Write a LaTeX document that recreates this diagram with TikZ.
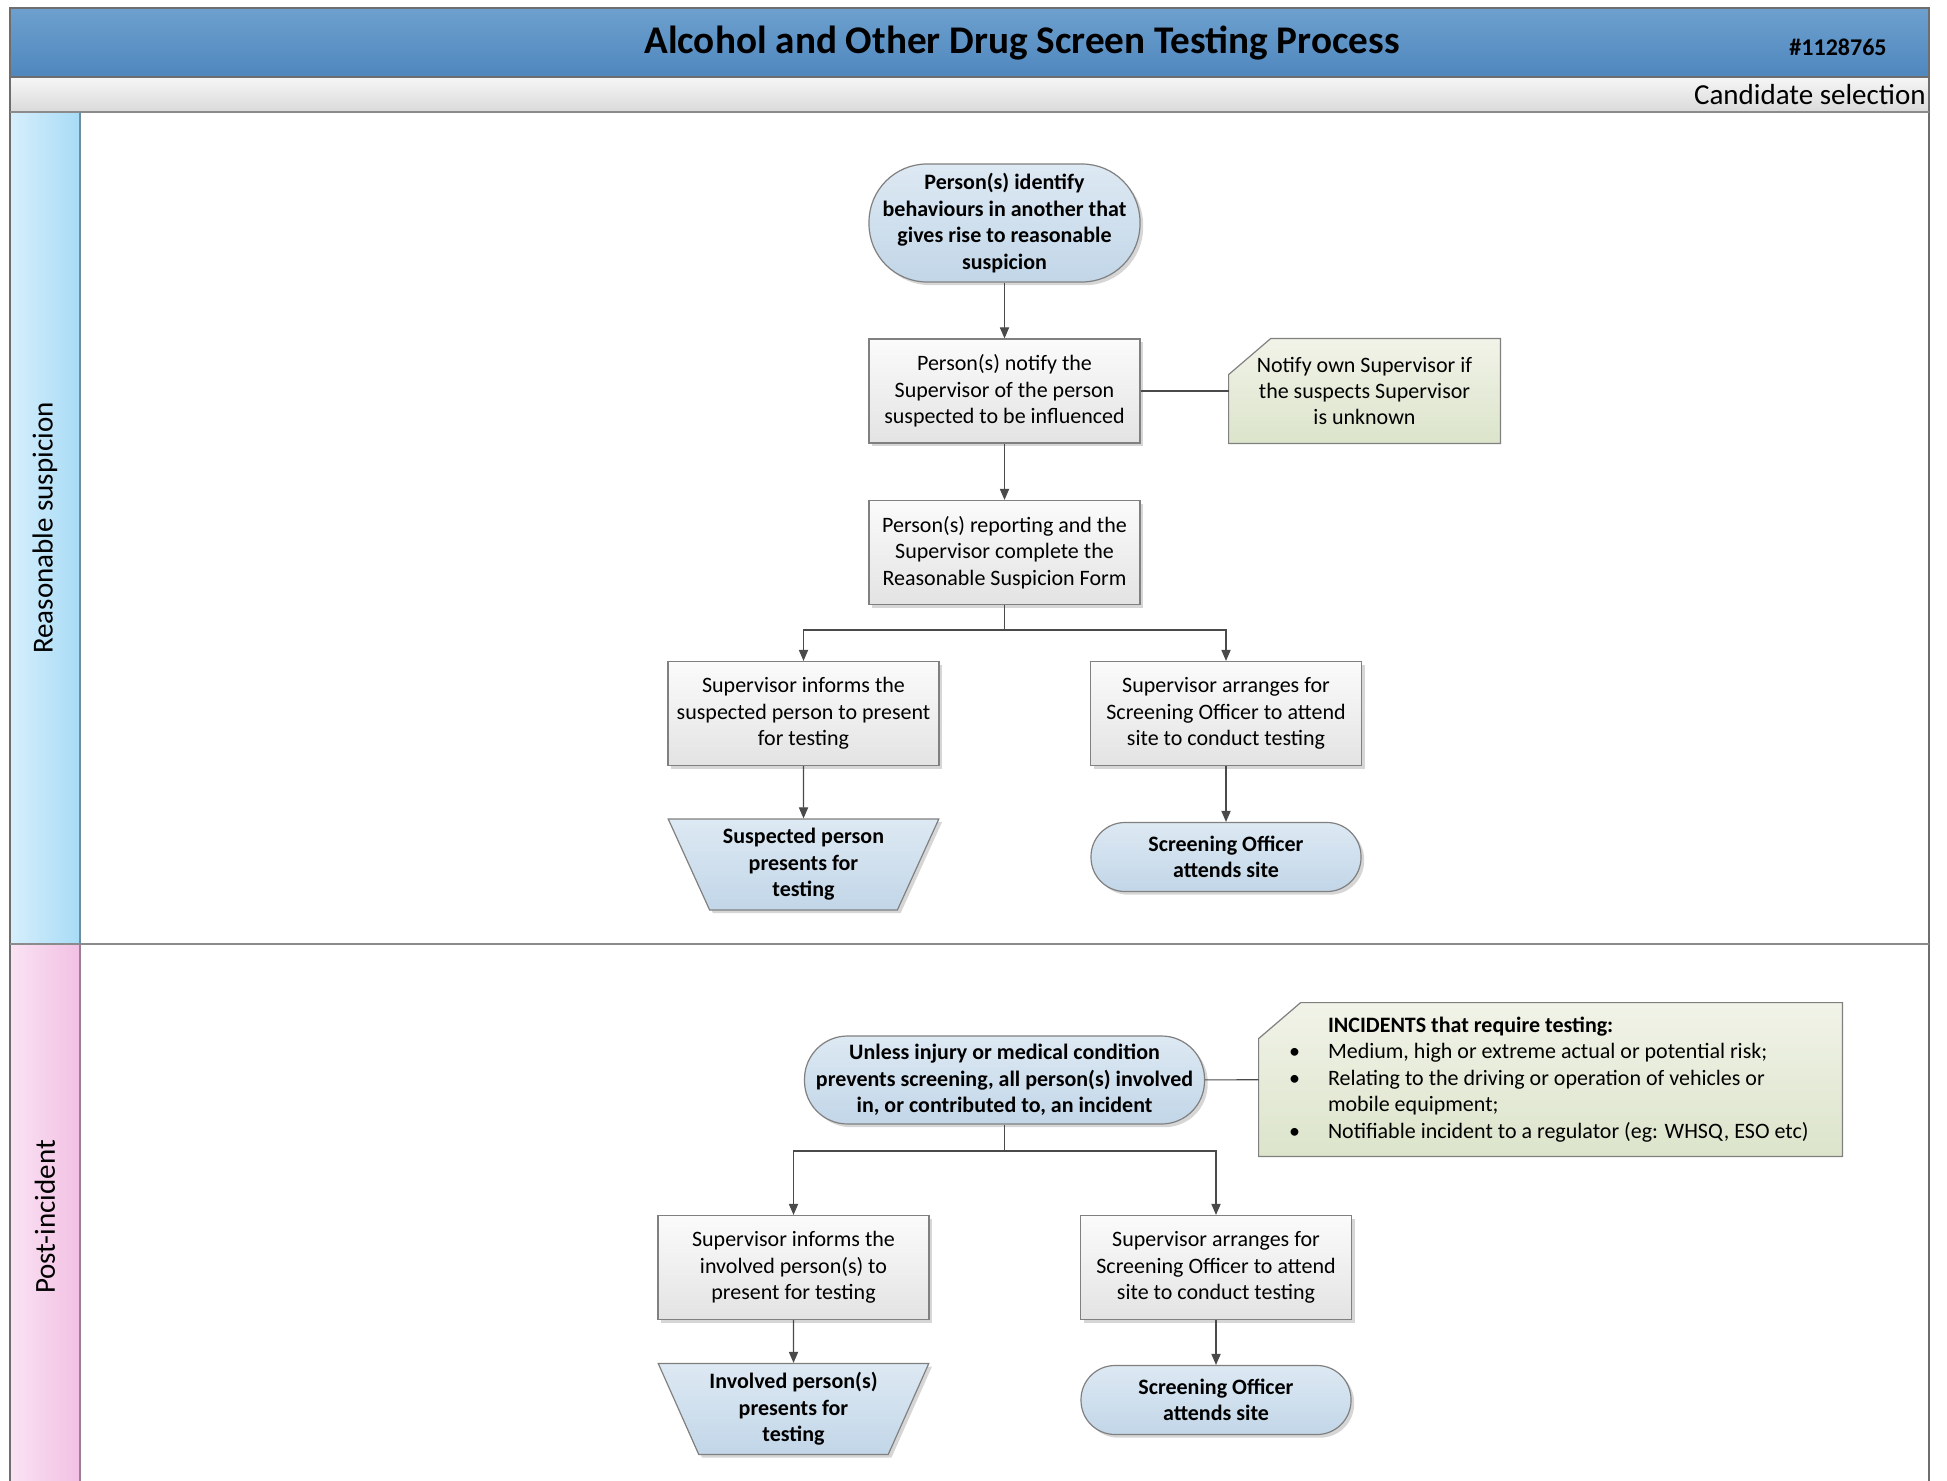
\documentclass[tikz,border=0pt]{standalone}
\usepackage{fontspec}
\setmainfont{Carlito}
\usetikzlibrary{arrows.meta,shapes.geometric,shadows}
\pgfdeclarelayer{lanes}
\pgfdeclarelayer{shapes}
\pgfsetlayers{lanes,shapes,main}
\definecolor{linec}{HTML}{4A4A4A}
\definecolor{bordc}{HTML}{808080}
\definecolor{framec}{HTML}{6E6E6E}
\definecolor{titleT}{HTML}{6DA0CE}
\definecolor{titleB}{HTML}{4F87BE}
\definecolor{subT}{HTML}{F6F6F6}
\definecolor{subB}{HTML}{DADADA}
\definecolor{laneAL}{HTML}{D6EFFC}
\definecolor{laneAR}{HTML}{A8DBF6}
\definecolor{laneBL}{HTML}{FAE3F3}
\definecolor{laneBR}{HTML}{F2C0E4}
\definecolor{laneAline}{HTML}{6F8CA0}
\definecolor{laneBline}{HTML}{9C7D92}
\definecolor{procT}{HTML}{FBFBFB}
\definecolor{procB}{HTML}{E3E3E3}
\definecolor{termT}{HTML}{DDE9F3}
\definecolor{termB}{HTML}{C2D6E8}
\definecolor{noteT}{HTML}{F1F3E8}
\definecolor{noteB}{HTML}{DCE4CB}
\newcommand\bodyfont{\fontsize{11pt}{13.2pt}\selectfont}
\newcommand\incind{\hspace*{32.5pt}}
\newcommand\incbul{\hspace*{32.5pt}\llap{\textbullet\hspace{14pt}}}
\tikzset{
  shadowed/.style={drop shadow={shadow xshift=1.6pt,shadow yshift=-1.6pt,fill=black,opacity=0.16}},
  basebox/.style={draw=bordc, line width=0.6pt, align=center, font=\bodyfont, inner sep=2pt, shadowed},
  procbox/.style={basebox, rectangle, top color=procT, bottom color=procB, minimum width=135.5pt, minimum height=52pt},
  termbox/.style={basebox, rectangle, top color=termT, bottom color=termB, font=\bfseries\bodyfont},
  trapbox/.style={basebox, trapezium, shape border rotate=180, trapezium left angle=65, trapezium right angle=65, trapezium stretches=true, top color=termT, bottom color=termB, font=\bfseries\bodyfont, minimum width=135.5pt, minimum height=45.5pt},
  notebox/.style={rectangle, align=center, font=\bodyfont, inner sep=2pt},
  notefill/.style={draw=bordc, line width=0.6pt, top color=noteT, bottom color=noteB},
  arr/.style={draw=linec, line width=0.55pt, -{Triangle[length=5.5pt,width=4.6pt]}},
  plainline/.style={draw=linec, line width=0.55pt},
}
\begin{document}
\begin{tikzpicture}[x=0.5pt,y=-0.5pt]
\useasboundingbox (0,0) rectangle (1947,1481);
% ---------- swimlane frame ----------
\begin{pgfonlayer}{lanes}
\fill[white] (0,0) rectangle (1947,1481);
\shade[top color=titleT, bottom color=titleB] (10,8) rectangle (1929,77);
\shade[top color=subT, bottom color=subB] (10,77) rectangle (1929,112);
\shade[left color=laneAL, right color=laneAR] (10,112) rectangle (80,944);
\shade[left color=laneBL, right color=laneBR] (10,944) rectangle (80,1481);
\draw[framec, line width=0.8pt] (10,1481) -- (10,8) -- (1929,8) -- (1929,1481);
\draw[framec, line width=0.8pt] (10,77) -- (1929,77);
\draw[framec!80, line width=0.8pt] (10,112) -- (1929,112);
\draw[framec!80, line width=0.6pt] (10,944) -- (1929,944);
\draw[laneAline, line width=0.9pt] (80,112) -- (80,944);
\draw[laneBline, line width=0.9pt] (80,944) -- (80,1481);
\end{pgfonlayer}
\node[font=\bfseries\fontsize{19.6pt}{22pt}\selectfont] (title) at (1022,43) {Alcohol and Other Drug Screen Testing Process};
\node[font=\bfseries\fontsize{12pt}{14pt}\selectfont] (docno) at (1838,47) {\#1128765};
\node[font=\fontsize{14.5pt}{17pt}\selectfont, anchor=east, inner sep=0pt] (cand) at (1926,95) {Candidate selection};
\node[font=\fontsize{14.5pt}{17pt}\selectfont, rotate=90] (laneA) at (45,528) {Reasonable suspicion};
\node[font=\fontsize{14.5pt}{17pt}\selectfont, rotate=90] (laneB) at (45,1217) {Post-incident};
% ---------- lane 1 ----------
\node[termbox, minimum width=135.5pt, minimum height=59pt, rounded corners=29pt] (t1) at (1004.5,223)
  {Person(s) identify\\behaviours in another that\\gives rise to reasonable\\suspicion};
\node[procbox] (p1) at (1004.5,391) {Person(s) notify the\\Supervisor of the person\\suspected to be influenced};
\node[notebox, minimum width=135.5pt, minimum height=52pt] (n1) at (1364.5,391) {Notify own Supervisor if\\the suspects Supervisor\\is unknown};
\node[procbox] (p2) at (1004.5,552.5) {Person(s) reporting and the\\Supervisor complete the\\Reasonable Suspicion Form};
\node[procbox] (p3) at (803.5,713.5) {Supervisor informs the\\suspected person to present\\for testing};
\node[procbox] (p4) at (1226,713.5) {Supervisor arranges for\\Screening Officer to attend\\site to conduct testing};
\node[trapbox] (tr1) at (803.5,864.5) {Suspected person\\presents for\\testing};
\node[termbox, minimum width=135pt, minimum height=34.5pt, rounded corners=17pt] (so1) at (1226,857) {Screening Officer\\attends site};
\coordinate (j1) at (1004.5,630);
% ---------- lane 2 ----------
\node[termbox, minimum width=200pt, minimum height=44pt, rounded corners=21.5pt] (t2) at (1004.5,1080)
  {Unless injury or medical condition\\prevents screening, all person(s) involved\\in, or contributed to, an incident};
\node[notebox, align=flush left, text width=287.5pt, minimum height=76.5pt] (n2) at (1550.5,1079.5)
  {\incind\textbf{INCIDENTS that require testing:}\\
   \incbul Medium, high or extreme actual or potential risk;\\
   \incbul Relating to the driving or operation of vehicles or\\
   \incind mobile equipment;\\
   \incbul Notifiable incident to a regulator (eg: WHSQ, ESO etc)};
\node[procbox] (p5) at (793.5,1267.5) {Supervisor informs the\\involved person(s) to\\present for testing};
\node[procbox] (p6) at (1216,1267.5) {Supervisor arranges for\\Screening Officer to attend\\site to conduct testing};
\node[trapbox] (tr2) at (793.5,1409) {Involved person(s)\\presents for\\testing};
\node[termbox, minimum width=135pt, minimum height=34.5pt, rounded corners=17pt] (so2) at (1216,1400) {Screening Officer\\attends site};
\coordinate (j2) at (1004.5,1151);
% ---------- note shapes ----------
\begin{pgfonlayer}{shapes}
\foreach \nn in {n1,n2}{
  \fill[black, opacity=0.16, shift={(1.6pt,-1.6pt)}] ([yshift=-18pt]\nn.north west) -- ([xshift=21pt]\nn.north west) -- (\nn.north east) -- (\nn.south east) -- (\nn.south west) -- cycle;
  \path[notefill] ([yshift=-18pt]\nn.north west) -- ([xshift=21pt]\nn.north west) -- (\nn.north east) -- (\nn.south east) -- (\nn.south west) -- cycle;
}
\end{pgfonlayer}
% ---------- connectors ----------
\draw[arr] (t1) -- (p1);
\draw[plainline] (p1) -- (n1);
\draw[arr] (p1) -- (p2);
\draw[plainline] (p2) -- (j1);
\draw[arr] (j1) -| (p3);
\draw[arr] (j1) -| (p4);
\draw[arr] (p3) -- (tr1);
\draw[arr] (p4) -- (so1);
\draw[plainline] (t2) -- (n2);
\draw[plainline] (t2) -- (j2);
\draw[arr] (j2) -| (p5);
\draw[arr] (j2) -| (p6);
\draw[arr] (p5) -- (tr2);
\draw[arr] (p6) -- (so2);
\end{tikzpicture}
\end{document}
